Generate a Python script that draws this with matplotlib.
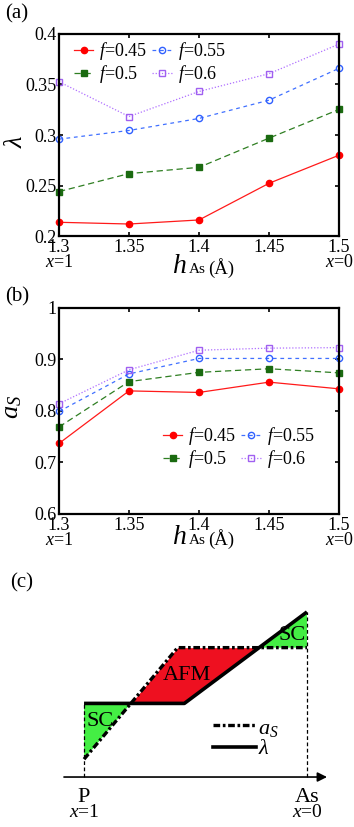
import numpy as np
import matplotlib
matplotlib.use('Agg')
import matplotlib.pyplot as plt

plt.rcParams['font.family'] = ['Liberation Serif', 'DejaVu Serif']
plt.rcParams['mathtext.fontset'] = 'custom'
plt.rcParams['mathtext.rm'] = 'Liberation Serif'
plt.rcParams['mathtext.it'] = 'Liberation Serif:italic'

# h_As values (Angstrom)
h_as = [1.3, 1.35, 1.4, 1.45, 1.5]
f_labels = ['$f$=0.45', '$f$=0.5', '$f$=0.55', '$f$=0.6']

# panel (a): lambda
lam_045 = [0.2136, 0.2119, 0.2159, 0.2522, 0.2800]
lam_050 = [0.2440, 0.2618, 0.2680, 0.2969, 0.3253]
lam_055 = [0.2959, 0.3045, 0.3164, 0.3345, 0.3660]
lam_060 = [0.3527, 0.3183, 0.3431, 0.3607, 0.3900]

# panel (b): a_S
as_045 = [0.737, 0.839, 0.836, 0.856, 0.843]
as_050 = [0.769, 0.857, 0.875, 0.882, 0.874]
as_055 = [0.799, 0.872, 0.902, 0.902, 0.902]
as_060 = [0.814, 0.880, 0.918, 0.922, 0.923]

xticks = [1.3, 1.35, 1.4, 1.45, 1.5]
xticklabels = ['1.3\n$x$=1', '1.35', '1.4', '1.45', '1.5\n$x$=0']

# panel (c): schematic, x from P (0) to As (1)
sch_lam_x = [0.0, 0.45, 1.0]
sch_lam_y = [0.33, 0.33, 0.74]
sch_as_x = [0.0, 0.42, 1.0]
sch_as_y = [0.08, 0.58, 0.58]

styles = [
    dict(color='#ff1a1a', ls='-', marker='o', mfc='#ff0000', mec='#ff0000'),
    dict(color='#2f7f22', ls=(0, (5, 3)), marker='s', mfc='#1a6a10', mec='#1a6a10'),
    dict(color='#4070ff', ls=(0, (3, 3)), marker='o', mfc='none', mec='#3060ff'),
    dict(color='#b070ff', ls=(0, (1, 1.5)), marker='s', mfc='none', mec='#a060f0'),
]

W, H = 354, 827


def px(x, y):
    # figure pixel (from top-left) -> figure fraction
    return x / W, 1 - y / H


def style_axes(ax, label_base):
    for s in ax.spines.values():
        s.set_linewidth(1.6)
    ax.tick_params(direction='in', top=True, right=True, length=3, width=1.2,
                   labelsize=13, pad=2)
    ax.set_xlim(1.3, 1.5)
    ax.set_xticks(xticks)
    ax.set_xticklabels(xticklabels, linespacing=0.85)
    # x label: h_As (Å)
    fig.text(*px(172, label_base), '$h$', fontsize=20, va='baseline', ha='left')
    fig.text(*px(189, label_base), 'As', fontsize=11, va='baseline', ha='left')
    fig.text(*px(208, label_base + 1), '(Å)', fontsize=13.5, va='baseline', ha='left')


def add_legend(ax, x, y):
    ax.legend(ncol=2, loc='upper left', bbox_to_anchor=(x, y), frameon=False,
              fontsize=13, handlelength=1.1, handletextpad=0.3, columnspacing=0.3,
              labelspacing=0.05, borderaxespad=0, borderpad=0)


fig = plt.figure(figsize=(3.54, 8.27), dpi=100)

# (a)
ax1 = fig.add_axes([0.1667, 0.7146, 0.791, 0.2443])
for ys, st, lb in zip([lam_045, lam_050, lam_055, lam_060], styles, f_labels):
    ax1.plot(h_as, ys, lw=0.9, ms=4.5, mew=1.0, label=lb, clip_on=False, **st)
ax1.set_ylim(0.2, 0.4)
ax1.set_yticks([0.2, 0.25, 0.3, 0.35, 0.4])
ax1.set_yticklabels(['0.2', '0.25', '0.3', '0.35', '0.4'])
ax1.set_ylabel(r'$\lambda$', fontsize=19)
ax1.yaxis.set_label_coords(-0.115, 0.47)
style_axes(ax1, 273)
add_legend(ax1, 0.052, 0.97)

# (b)
ax2 = fig.add_axes([0.1667, 0.3785, 0.791, 0.2491])
for ys, st, lb in zip([as_045, as_050, as_055, as_060], styles, f_labels):
    ax2.plot(h_as, ys, lw=0.9, ms=4.5, mew=1.0, label=lb, clip_on=False, **st)
ax2.set_ylim(0.6, 1.0)
ax2.set_yticks([0.6, 0.7, 0.8, 0.9, 1.0])
ax2.set_yticklabels(['0.6', '0.7', '0.8', '0.9', '1'])
ax2.set_ylabel(r'$a_S$', fontsize=19)
ax2.yaxis.set_label_coords(-0.125, 0.52)
style_axes(ax2, 544)
add_legend(ax2, 0.37, 0.43)

fig.text(0.015, 0.983, '(a)', fontsize=15, va='center')
fig.text(0.015, 0.641, '(b)', fontsize=15, va='center')
fig.text(0.03, 0.295, '(c)', fontsize=15, va='center')

# (c) schematic
ax3 = fig.add_axes([0.0, 0.0, 1.0, 0.3229])
ax3.set_xlim(-0.377, 1.211)
ax3.set_ylim(-0.224, 0.973)
ax3.axis('off')

xg = np.linspace(0, 1, 1001)
lam_g = np.interp(xg, sch_lam_x, sch_lam_y)
as_g = np.interp(xg, sch_as_x, sch_as_y)
ax3.fill_between(xg, lam_g, as_g, where=lam_g >= as_g, color='#44ee44',
                 interpolate=True, lw=0)
ax3.fill_between(xg, lam_g, as_g, where=as_g >= lam_g, color='#ee1020',
                 interpolate=True, lw=0)
ax3.plot([0, 0], [0, sch_lam_y[0]], color='k', ls=(0, (3, 2)), lw=0.9)
ax3.plot([1, 1], [0, sch_lam_y[-1]], color='k', ls=(0, (3, 2)), lw=0.9)
ax3.plot(sch_as_x, sch_as_y, color='k', ls=(0, (2, 0.8, 0.8, 0.8)), lw=2.4)
ax3.plot(sch_lam_x, sch_lam_y, color='k', ls='-', lw=2.6, solid_capstyle='butt')
ax3.annotate('', xy=(1.09, 0), xytext=(-0.09, 0),
             arrowprops=dict(arrowstyle='-|>', color='k', lw=1.2,
                             mutation_scale=14, shrinkA=0, shrinkB=0))

ax3.text(0.01, 0.25, 'SC', fontsize=16, va='center', ha='left')
ax3.text(0.46, 0.455, 'AFM', fontsize=16, va='center', ha='center')
ax3.text(0.995, 0.635, 'SC', fontsize=16, va='center', ha='right')

ax3.plot([0.58, 0.77], [0.235, 0.235], color='k', ls=(0, (2, 0.8, 0.8, 0.8)), lw=2.4)
ax3.plot([0.58, 0.77], [0.135, 0.135], color='k', ls='-', lw=2.6)
ax3.text(0.78, 0.215, '$a_S$', fontsize=16, va='center', ha='left')
ax3.text(0.78, 0.125, r'$\lambda$', fontsize=16, va='center', ha='left')

ax3.text(0.0, -0.09, 'P', fontsize=16, va='center', ha='center')
ax3.text(0.0, -0.158, '$x$=1', fontsize=14, va='center', ha='center')
ax3.text(1.0, -0.09, 'As', fontsize=16, va='center', ha='center')
ax3.text(1.0, -0.158, '$x$=0', fontsize=14, va='center', ha='center')

fig.savefig('out.png', dpi=100)
